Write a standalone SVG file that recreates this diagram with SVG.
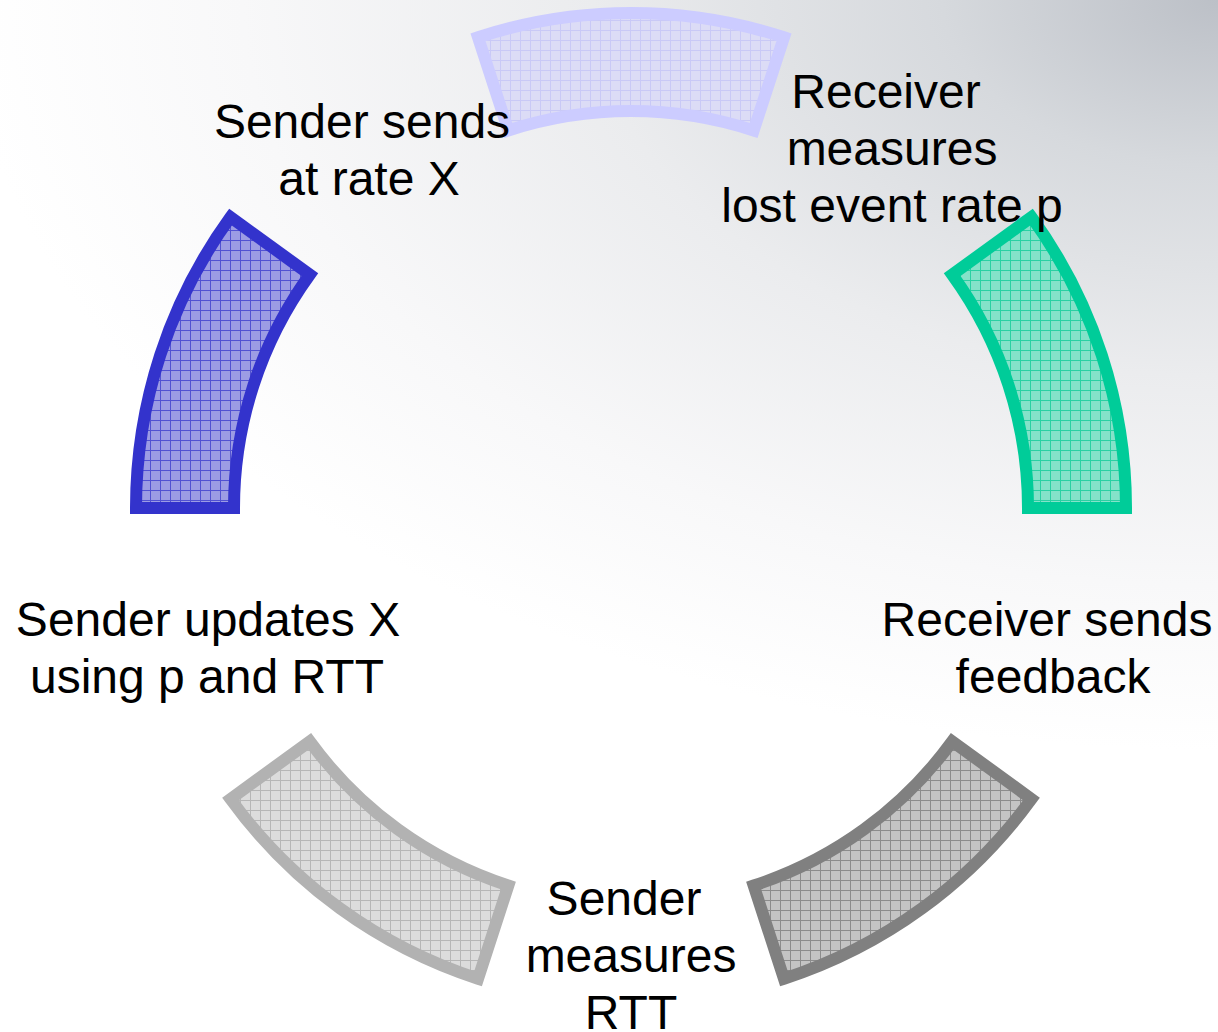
<svg xmlns="http://www.w3.org/2000/svg" width="1218" height="1032" viewBox="0 0 1218 1032">
  <style>
    .label { font-family: "Liberation Sans", Arial, sans-serif; font-size: 48px; fill: #000000; text-anchor: middle; }
    .sector { stroke-width: 12; stroke-linejoin: miter; stroke-miterlimit: 10; }
  </style>
  <defs>
    <!-- soft grey wash fading out from the top-right corner -->
    <radialGradient id="bg" gradientUnits="userSpaceOnUse" cx="1218" cy="0" r="1250"
                    gradientTransform="translate(1218 0) scale(1 0.6) translate(-1218 0)">
      <stop offset="0" stop-color="#bcc0c7"/>
      <stop offset="0.22" stop-color="#d6d9dd"/>
      <stop offset="0.5" stop-color="#ebecee"/>
      <stop offset="0.78" stop-color="#f8f8f9"/>
      <stop offset="1" stop-color="#ffffff"/>
    </radialGradient>
    <!-- gridded fills, one per colour -->
    <pattern id="gridLavender" patternUnits="userSpaceOnUse" width="10" height="10">
      <rect width="10" height="10" fill="#dcdcf6"/>
      <path d="M0.5 0V10M0 0.5H10" stroke="#c9c9f6" stroke-width="1"/>
    </pattern>
    <pattern id="gridBlue" patternUnits="userSpaceOnUse" width="10" height="10">
      <rect width="10" height="10" fill="#9c9ce4"/>
      <path d="M0.5 0V10M0 0.5H10" stroke="#5252d2" stroke-width="1"/>
    </pattern>
    <pattern id="gridGreen" patternUnits="userSpaceOnUse" width="10" height="10">
      <rect width="10" height="10" fill="#84e2c9"/>
      <path d="M0.5 0V10M0 0.5H10" stroke="#2ad0a3" stroke-width="1"/>
    </pattern>
    <pattern id="gridDark" patternUnits="userSpaceOnUse" width="10" height="10">
      <rect width="10" height="10" fill="#c4c4c4"/>
      <path d="M0.5 0V10M0 0.5H10" stroke="#8c8c8c" stroke-width="1"/>
    </pattern>
    <pattern id="gridLight" patternUnits="userSpaceOnUse" width="10" height="10">
      <rect width="10" height="10" fill="#dcdcdc"/>
      <path d="M0.5 0V10M0 0.5H10" stroke="#b6b6b6" stroke-width="1"/>
    </pattern>
  </defs>

  <rect id="background" x="0" y="0" width="1218" height="1032" fill="url(#bg)"/>

  <!-- ring of five sectors around (631,508), radii 397..495 -->
  <g id="ring">
    <g id="sector-top">
      <path class="sector" fill="url(#gridLavender)" stroke="#ccccff"
            d="M783.96,37.23 A495,495 0 0 0 478.04,37.23 L508.32,130.43 A397,397 0 0 1 753.68,130.43 Z"/>
    </g>
    <g id="sector-left">
      <path class="sector" fill="url(#gridBlue)" stroke="#3333cc"
            d="M230.53,217.04 A495,495 0 0 0 136,508 L234,508 A397,397 0 0 1 309.82,274.65 Z"/>
    </g>
    <g id="sector-bottom-left">
      <path class="sector" fill="url(#gridLight)" stroke="#b2b2b2"
            d="M230.53,798.96 A495,495 0 0 0 478.04,978.77 L508.32,885.57 A397,397 0 0 1 309.82,741.35 Z"/>
    </g>
    <g id="sector-bottom-right">
      <path class="sector" fill="url(#gridDark)" stroke="#808080"
            d="M783.96,978.77 A495,495 0 0 0 1031.47,798.96 L952.18,741.35 A397,397 0 0 1 753.68,885.57 Z"/>
    </g>
    <g id="sector-right">
      <path class="sector" fill="url(#gridGreen)" stroke="#00cc99"
            d="M1126,508 A495,495 0 0 0 1031.47,217.04 L952.18,274.65 A397,397 0 0 1 1028,508 Z"/>
    </g>
  </g>

  <g id="connectors"/>

  <!-- step labels -->
  <g id="step-send">
    <text class="label" x="362" y="138">Sender sends</text>
    <text class="label" x="369" y="195">at rate X</text>
  </g>
  <g id="step-measure-loss">
    <text class="label" x="886" y="108">Receiver</text>
    <text class="label" x="892" y="165">measures</text>
    <text class="label" x="892" y="222">lost event rate p</text>
  </g>
  <g id="step-feedback">
    <text class="label" x="1047" y="636">Receiver sends</text>
    <text class="label" x="1053" y="693">feedback</text>
  </g>
  <g id="step-rtt">
    <text class="label" x="624" y="915">Sender</text>
    <text class="label" x="631" y="972">measures</text>
    <text class="label" x="631" y="1029">RTT</text>
  </g>
  <g id="step-update">
    <text class="label" x="208" y="636">Sender updates X</text>
    <text class="label" x="207" y="693">using p and RTT</text>
  </g>
</svg>
